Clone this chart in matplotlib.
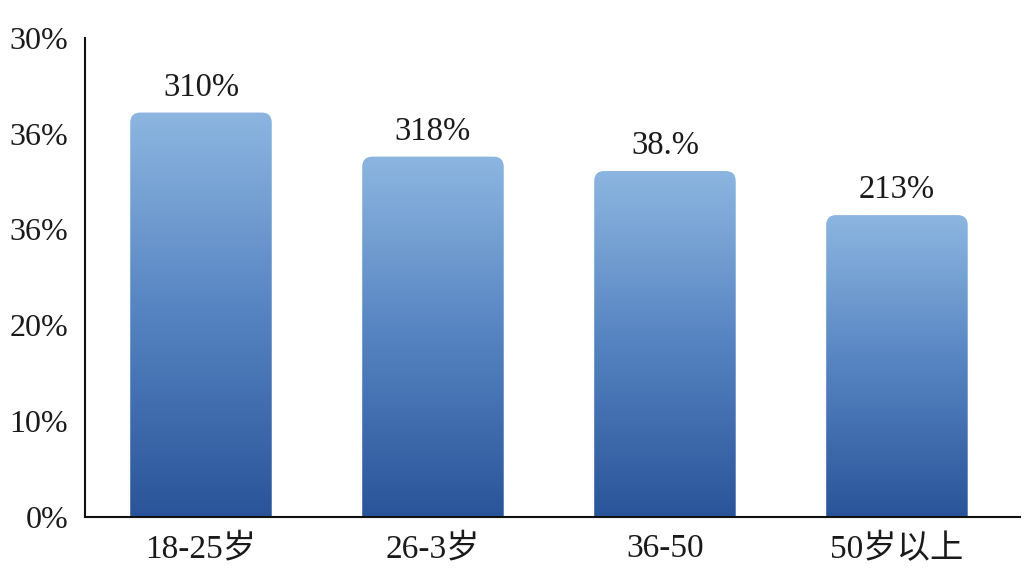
import numpy as np
import matplotlib
matplotlib.use("Agg")
import matplotlib.pyplot as plt
from matplotlib.patches import FancyBboxPatch
from matplotlib.colors import LinearSegmentedColormap

plt.rcParams["font.family"] = ["Liberation Serif", "Noto Sans CJK SC", "DejaVu Sans"]

# data
categories = ["18-25岁", "26-3岁", "36-50", "50岁以上"]
values = [42.2, 37.6, 36.1, 31.5]
value_labels = ["310%", "318%", "38.%", "213%"]
y_ticks = [0, 10, 20, 30, 40, 50]
y_tick_labels = ["0%", "10%", "20%", "36%", "36%", "30%"]

BAR_W = 0.61
XMIN, XMAX, YMAX = -0.5, 3.53, 50
cmap = LinearSegmentedColormap.from_list("bar", ["#2a5499", "#5583c1", "#8cb6e0"])

fig = plt.figure(figsize=(10.24, 5.76), dpi=100)
ax = fig.add_axes([0.083, 0.1024, 0.913, 0.832])
ax.set_xlim(XMIN, XMAX)
ax.set_ylim(0, YMAX)

# data units per pixel, so the corner radius stays round
bb = ax.get_position()
x_per_px = (XMAX - XMIN) / (bb.width * 1024)
y_per_px = YMAX / (bb.height * 576)
radius_px = 10

grad = np.linspace(0, 1, 256).reshape(-1, 1)
for i, v in enumerate(values):
    x0 = i - BAR_W / 2
    # rounded top: box runs below the axis so only the top corners show
    patch = FancyBboxPatch((x0, -5), BAR_W, v + 5,
                           boxstyle=f"round,pad=0,rounding_size={radius_px * x_per_px}",
                           mutation_aspect=y_per_px / x_per_px,
                           facecolor="none", edgecolor="none")
    ax.add_patch(patch)
    im = ax.imshow(grad, cmap=cmap, origin="lower", aspect="auto",
                   extent=(x0, x0 + BAR_W, 0, v), zorder=2)
    im.set_clip_path(patch)
    ax.annotate(value_labels[i], (i, v), xytext=(0, 7), textcoords="offset points",
                ha="center", va="bottom", fontsize=23.5, color="#1a1a1a")

ax.set_xticks(range(len(categories)))
ax.set_xticklabels(categories, fontsize=24)
ax.set_yticks(y_ticks)
ax.set_yticklabels(y_tick_labels, fontsize=23)
ax.tick_params(length=0, pad=12, colors="#1a1a1a")
ax.tick_params(axis="y", pad=12)

for s in ("top", "right"):
    ax.spines[s].set_visible(False)
for s in ("left", "bottom"):
    ax.spines[s].set_linewidth(1.5)
    ax.spines[s].set_color("#111111")

fig.savefig("out.png", dpi=100)
